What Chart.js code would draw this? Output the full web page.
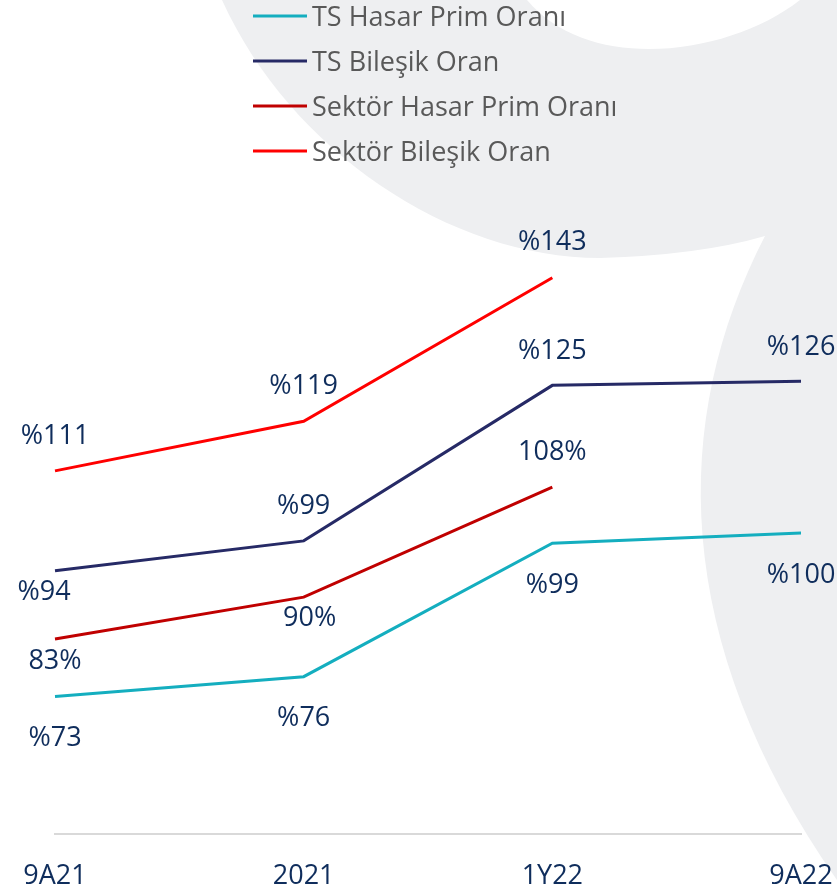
<!DOCTYPE html>
<html>
<head>
<meta charset="utf-8">
<script src="https://cdn.jsdelivr.net/npm/chart.js@4.4.1/dist/chart.umd.min.js"></script>
<style>
  html, body { margin: 0; padding: 0; background: #ffffff; overflow: hidden; }
  #wrap { width: 837px; height: 892px; position: relative; }
</style>
</head>
<body>
<div id="wrap"><canvas id="c" width="837" height="892"></canvas></div>
<script>
// ---- data ----
const categories = ['9A21', '2021', '1Y22', '9A22'];
const seriesNames = ['TS Hasar Prim Oranı', 'TS Bileşik Oran', 'Sektör Hasar Prim Oranı', 'Sektör Bileşik Oran'];
const tsHasarPrim = [73, 76.3, 98.6, 100.3];
const tsBilesik = [94, 99, 125, 125.7];
const sektorHasarPrim = [82.6, 89.6, 108, null];
const sektorBilesik = [110.7, 119, 143, null];

// ---- styles ----
const colors = ['#14AEBF', '#262A66', '#C00000', '#FF0000'];
const labelStyle = ['prefix', 'prefix', 'suffix', 'prefix'];
const labelDy = [
  [40, 40, 40, 40],
  [19, -37, -36, -36],
  [20, 19, -37, 0],
  [-37, -37, -37, 0]
];
const labelDx = [
  [0, 0, 0, 0],
  [-11, 0, 0, 0],
  [0, 6, 0, 0],
  [0, 0, 0, 0]
];
const FONT = '"Open Sans", "DejaVu Sans", sans-serif';
const LABEL_COLOR = '#0F2D5C';

const allSeries = [tsHasarPrim, tsBilesik, sektorHasarPrim, sektorBilesik];

const bgPlugin = {
  id: 'bg',
  beforeDraw(chart) {
    const ctx = chart.ctx;
    ctx.save();
    ctx.fillStyle = '#ffffff';
    ctx.fillRect(0, 0, chart.width, chart.height);
    ctx.fillStyle = '#EEEFF1';
    ctx.beginPath();
    ctx.moveTo(222, 0);
    ctx.bezierCurveTo(290, 150, 450, 258, 600, 258);
    ctx.quadraticCurveTo(700, 255, 765, 236);
    ctx.bezierCurveTo(670, 420, 670, 640, 837, 880);
    ctx.lineTo(837, 0);
    ctx.lineTo(800, 0);
    ctx.bezierCurveTo(730, 55, 590, 75, 527, 0);
    ctx.closePath();
    ctx.fill();
    ctx.restore();
  }
};

const labelPlugin = {
  id: 'pointLabels',
  afterDatasetsDraw(chart) {
    const ctx = chart.ctx;
    ctx.save();
    ctx.font = '27px ' + FONT;
    ctx.fillStyle = LABEL_COLOR;
    ctx.textAlign = 'center';
    ctx.textBaseline = 'alphabetic';
    chart.data.datasets.forEach((ds, di) => {
      const meta = chart.getDatasetMeta(di);
      meta.data.forEach((pt, i) => {
        const v = ds.data[i];
        if (v === null || v === undefined) return;
        const r = Math.round(v);
        const txt = labelStyle[di] === 'prefix' ? '%' + r : r + '%';
        const cx = pt.x + labelDx[di][i];
        const cy = pt.y + labelDy[di][i];
        ctx.fillText(txt, cx, cy + 9.7);
      });
    });
    ctx.restore();
  }
};

const legendPlugin = {
  id: 'customLegend',
  afterDraw(chart) {
    const ctx = chart.ctx;
    ctx.save();
    ctx.font = '27px ' + FONT;
    ctx.textAlign = 'left';
    ctx.textBaseline = 'alphabetic';
    const x0 = 253, lineLen = 54, gap = 5, y0 = 16, step = 45;
    chart.data.datasets.forEach((ds, di) => {
      const y = y0 + di * step;
      ctx.strokeStyle = ds.borderColor;
      ctx.lineWidth = 3;
      ctx.beginPath();
      ctx.moveTo(x0, y);
      ctx.lineTo(x0 + lineLen, y);
      ctx.stroke();
      ctx.fillStyle = '#595959';
      ctx.fillText(ds.label, x0 + lineLen + gap, y + 9.7);
    });
    ctx.restore();
  }
};

new Chart(document.getElementById('c'), {
  type: 'line',
  data: {
    labels: categories,
    datasets: allSeries.map((d, i) => ({
      label: seriesNames[i],
      data: d,
      borderColor: colors[i],
      backgroundColor: colors[i],
      borderWidth: 3,
      pointRadius: 0,
      tension: 0,
      fill: false
    }))
  },
  options: {
    responsive: false,
    devicePixelRatio: 1,
    animation: false,
    layout: { padding: { top: 176, left: 55, right: 36, bottom: 0 } },
    plugins: { legend: { display: false }, tooltip: { enabled: false } },
    scales: {
      x: {
        type: 'category',
        offset: false,
        grid: { display: false, drawTicks: false },
        border: { display: true, color: '#D9D9D9', width: 2 },
        ticks: { font: { family: FONT, size: 27, lineHeight: 80 / 27 }, color: LABEL_COLOR, padding: 2, maxRotation: 0, autoSkip: false },
        afterFit(scale) {
          scale.height = 58;
          scale.paddingLeft = 0;
          scale.paddingRight = 0;
        }
      },
      y: { display: false, min: 50, max: 160 }
    }
  },
  plugins: [bgPlugin, labelPlugin, legendPlugin]
});
</script>
</body>
</html>
